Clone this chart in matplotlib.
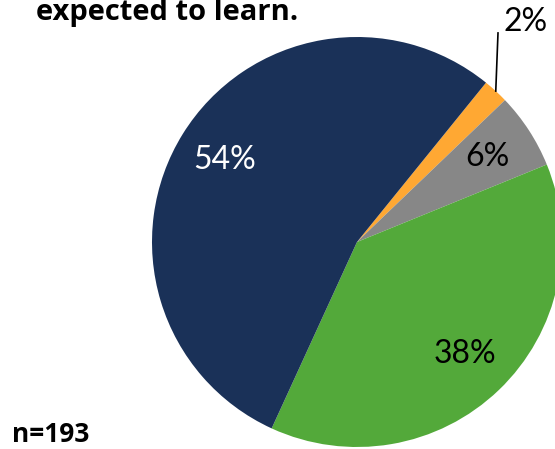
import numpy as np
import matplotlib
matplotlib.use("Agg")
import matplotlib.pyplot as plt

# slices in clockwise order, starting at the navy/orange boundary
labels = ["2%", "6%", "38%", "54%"]
values = [2, 6, 38, 54]
colors = ["#ffa833", "#878787", "#53a93a", "#1a3158"]
pct_colors = ["black", "black", "black", "white"]

title = "expected to learn."
note = "n=193"

W, H = 555, 449
fig = plt.figure(figsize=(W / 100, H / 100), dpi=100)
ax = fig.add_axes([0, 0, 1, 1])

cx, cy, r = 357, H - 242, 205
font = ["Lato", "DejaVu Sans"]
bold_font = ["Open Sans", "DejaVu Sans"]

wedges, _ = ax.pie(values, colors=colors, startangle=51, counterclock=False,
                   center=(cx, cy), radius=r, frame=True,
                   wedgeprops=dict(linewidth=0))
ax.set_xlim(0, W)
ax.set_ylim(0, H)
ax.set_aspect("equal")
ax.axis("off")

for i, w in enumerate(wedges):
    mid = np.deg2rad((w.theta1 + w.theta2) / 2)
    if i == 0:
        # small slice: label outside with leader line
        ex, ey = cx + r * np.cos(mid), cy + r * np.sin(mid)
        tx, ty = cx + 1.23 * r * np.cos(np.deg2rad(56)), cy + 1.23 * r * np.sin(np.deg2rad(56))
        ax.plot([ex, tx], [ey, ty], color="black", lw=1.2)
        ax.text(tx + 5, ty + 11, labels[i], ha="left", va="center",
                fontsize=23, family=font, color=pct_colors[i])
    else:
        d = 0.76 * r
        ax.text(cx + d * np.cos(mid), cy + d * np.sin(mid), labels[i],
                ha="center", va="center", fontsize=23, family=font,
                color=pct_colors[i])

fig.text(36 / W, 1 - 20 / H, title, ha="left", va="baseline",
         fontsize=21, fontweight="bold", family=bold_font)
fig.text(12 / W, 1 - 442 / H, note, ha="left", va="baseline",
         fontsize=19, fontweight="bold", family=bold_font)

fig.savefig("out.png", dpi=100)
